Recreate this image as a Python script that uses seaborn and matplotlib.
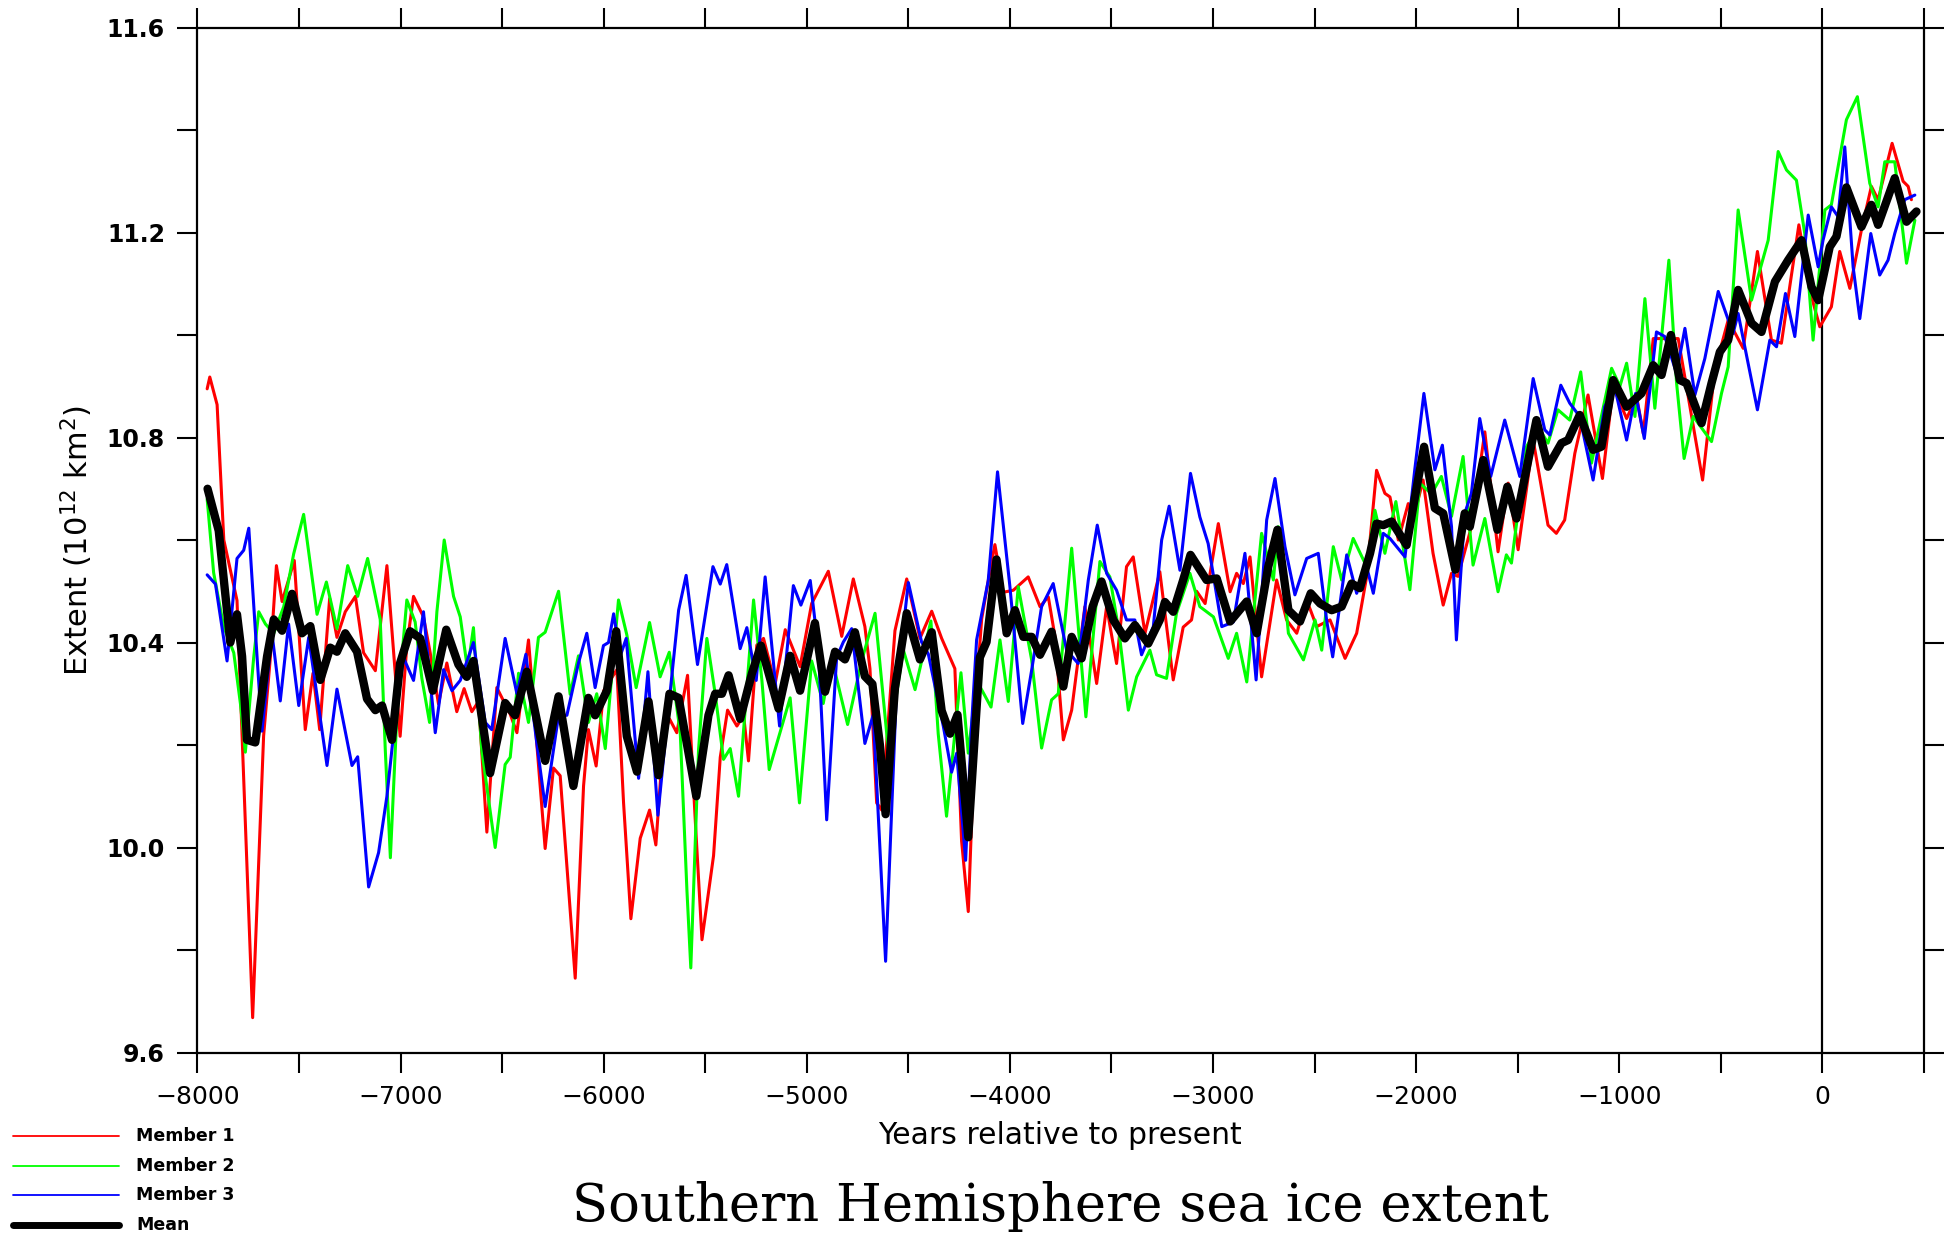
import numpy as np
import pandas as pd
import seaborn as sns
import matplotlib.pyplot as plt
from matplotlib.lines import Line2D
from matplotlib.ticker import MultipleLocator

# Member 1 (red)
m1_years = [-7952, -7939, -7903, -7870, -7805, -7728, -7674, -7641, -7611, -7583, -7523, -7469, -7431, -7398,
            -7349, -7313, -7272, -7222, -7182, -7124, -7067, -7002, -6969, -6936, -6887, -6854, -6813, -6772,
            -6723, -6687, -6649, -6616, -6575, -6526, -6460, -6427, -6370, -6288, -6247, -6214, -6140, -6099,
            -6075, -6037, -6000, -5935, -5902, -5866, -5820, -5774, -5743, -5705, -5676, -5640, -5587, -5549,
            -5516, -5459, -5426, -5390, -5344, -5311, -5287, -5246, -5213, -5156, -5106, -5033, -4976, -4894,
            -4828, -4771, -4714, -4689, -4656, -4631, -4566, -4508, -4443, -4385, -4336, -4271, -4238, -4205,
            -4164, -4139, -4107, -4074, -4033, -3983, -3910, -3852, -3811, -3778, -3737, -3696, -3631, -3573,
            -3524, -3475, -3426, -3393, -3335, -3262, -3196, -3147, -3106, -3081, -3039, -2974, -2916, -2884,
            -2851, -2818, -2761, -2687, -2638, -2588, -2539, -2490, -2424, -2350, -2293, -2244, -2195, -2154,
            -2129, -2088, -2039, -2015, -1966, -1917, -1867, -1826, -1794, -1728, -1662, -1597, -1547, -1498,
            -1424, -1351, -1310, -1269, -1219, -1154, -1083, -1030, -964, -915, -882, -833, -710, -644, -590,
            -530, -464, -390, -320, -251, -202, -161, -116, -54, -13, 44, 85, 135, 192, 241, 274, 343, 397,
            422, 438]
m1_vals = [10.895, 10.918, 10.864, 10.60, 10.482, 9.668, 10.218, 10.37, 10.55, 10.48, 10.56, 10.23, 10.34, 10.23,
           10.486, 10.41, 10.46, 10.49, 10.38, 10.345, 10.55, 10.217, 10.394, 10.49, 10.45, 10.38, 10.28, 10.36,
           10.265, 10.31, 10.265, 10.285, 10.03, 10.312, 10.26, 10.224, 10.405, 9.998, 10.155, 10.14, 9.745, 10.12,
           10.23, 10.159, 10.306, 10.347, 10.087, 9.861, 10.018, 10.073, 10.005, 10.217, 10.251, 10.224, 10.336, 10.053,
           9.82, 9.984, 10.176, 10.268, 10.237, 10.258, 10.169, 10.395, 10.408, 10.319, 10.425, 10.353, 10.476, 10.539,
           10.412, 10.524, 10.431, 10.349, 10.087, 10.073, 10.423, 10.524, 10.408, 10.461, 10.408, 10.349, 10.013, 9.875,
           10.311, 10.446, 10.52, 10.591, 10.498, 10.502, 10.528, 10.47, 10.489, 10.411, 10.21, 10.268, 10.47, 10.32,
           10.47, 10.359, 10.548, 10.567, 10.418, 10.538, 10.327, 10.43, 10.444, 10.50, 10.476, 10.632, 10.499, 10.535,
           10.515, 10.567, 10.333, 10.522, 10.444, 10.418, 10.483, 10.431, 10.444, 10.369, 10.418, 10.528, 10.736, 10.691,
           10.684, 10.6, 10.671, 10.639, 10.717, 10.574, 10.473, 10.535, 10.529, 10.626, 10.811, 10.577, 10.711, 10.581,
           10.795, 10.629, 10.613, 10.639, 10.769, 10.883, 10.72, 10.899, 10.837, 10.88, 10.808, 10.993, 10.993, 10.841, 10.717,
           10.932, 11.029, 10.974, 11.163, 10.99, 10.984, 11.094, 11.215, 11.075, 11.016, 11.055, 11.163, 11.091, 11.205,
           11.29, 11.264, 11.374, 11.3, 11.29, 11.264]

# Member 2 (green)
m2_years = [-7952, -7920, -7870, -7821, -7788, -7764, -7723, -7698, -7665, -7624, -7575, -7526, -7477, -7411,
            -7365, -7313, -7260, -7211, -7162, -7100, -7075, -7050, -7018, -6969, -6928, -6895, -6857, -6821,
            -6785, -6739, -6706, -6670, -6641, -6600, -6534, -6485, -6460, -6419, -6370, -6321, -6288, -6222,
            -6165, -6124, -6075, -6034, -5992, -5927, -5886, -5840, -5774, -5722, -5677, -5623, -5590, -5571,
            -5533, -5492, -5451, -5410, -5377, -5336, -5262, -5221, -5185, -5082, -5036, -4976, -4919, -4878,
            -4799, -4730, -4664, -4599, -4525, -4467, -4389, -4353, -4312, -4241, -4205, -4164, -4093, -4049,
            -4008, -3959, -3893, -3844, -3795, -3762, -3696, -3626, -3557, -3508, -3462, -3417, -3376, -3311,
            -3278, -3229, -3180, -3114, -3065, -2998, -2925, -2884, -2834, -2761, -2703, -2679, -2629, -2555,
            -2498, -2465, -2408, -2367, -2310, -2244, -2203, -2154, -2100, -2031, -1982, -1925, -1876, -1826,
            -1769, -1720, -1662, -1597, -1556, -1531, -1457, -1400, -1351, -1302, -1244, -1190, -1137, -1038,
            -997, -964, -923, -874, -825, -756, -718, -681, -636, -546, -497, -464, -415, -349, -267, -218,
            -177, -128, -87, -46, 12, 44, 118, 172, 233, 274, 307, 356, 414, 455]
m2_vals = [10.68, 10.536, 10.43, 10.38, 10.28, 10.186, 10.37, 10.46, 10.436, 10.418, 10.47, 10.573, 10.65, 10.455,
           10.518, 10.427, 10.55, 10.49, 10.564, 10.445, 10.19, 9.98, 10.258, 10.483, 10.44, 10.33, 10.244, 10.46,
           10.6, 10.49, 10.45, 10.347, 10.429, 10.19, 10.0, 10.162, 10.176, 10.34, 10.244, 10.41, 10.42, 10.5,
           10.299, 10.374, 10.244, 10.30, 10.193, 10.483, 10.415, 10.312, 10.439, 10.333, 10.381, 10.224, 9.916, 9.765,
           10.19, 10.408, 10.30, 10.172, 10.193, 10.1, 10.483, 10.326, 10.152, 10.292, 10.087, 10.364, 10.281, 10.371,
           10.24, 10.364, 10.457, 10.192, 10.386, 10.308, 10.442, 10.222, 10.061, 10.341, 10.184, 10.326, 10.274, 10.405,
           10.285, 10.509, 10.366, 10.194, 10.288, 10.30, 10.584, 10.255, 10.558, 10.528, 10.418, 10.268, 10.333, 10.385,
           10.337, 10.33, 10.457, 10.535, 10.47, 10.45, 10.369, 10.418, 10.323, 10.613, 10.522, 10.626, 10.418, 10.366,
           10.444, 10.385, 10.587, 10.522, 10.603, 10.548, 10.658, 10.574, 10.675, 10.503, 10.711, 10.69, 10.724, 10.646,
           10.763, 10.551, 10.642, 10.499, 10.571, 10.555, 10.782, 10.821, 10.789, 10.854, 10.834, 10.928, 10.75, 10.935,
           10.9, 10.945, 10.841, 11.071, 10.857, 11.146, 10.906, 10.759, 10.841, 10.792, 10.886, 10.938, 11.244, 11.068, 11.185, 11.358,
           11.322, 11.302, 11.198, 10.99, 11.244, 11.254, 11.42, 11.465, 11.296, 11.25, 11.338, 11.338, 11.14, 11.224]

# Member 3 (blue)
m3_years = [-7952, -7911, -7854, -7805, -7772, -7747, -7706, -7682, -7633, -7592, -7551, -7501, -7452, -7362,
            -7313, -7239, -7211, -7157, -7108, -7067, -7018, -6985, -6936, -6887, -6829, -6788, -6747, -6706,
            -6641, -6583, -6551, -6485, -6427, -6383, -6329, -6288, -6222, -6181, -6124, -6083, -6042, -6001,
            -5976, -5951, -5918, -5889, -5828, -5782, -5733, -5681, -5631, -5594, -5538, -5462, -5426, -5394,
            -5328, -5295, -5249, -5205, -5134, -5066, -5029, -4983, -4943, -4902, -4853, -4820, -4779, -4746,
            -4714, -4673, -4612, -4558, -4500, -4435, -4402, -4328, -4287, -4262, -4218, -4189, -4164, -4107,
            -4061, -4000, -3937, -3893, -3844, -3787, -3721, -3664, -3614, -3570, -3524, -3475, -3426, -3385,
            -3352, -3294, -3253, -3216, -3163, -3111, -3065, -3024, -2957, -2900, -2843, -2788, -2736, -2695,
            -2646, -2597, -2539, -2482, -2441, -2411, -2342, -2293, -2244, -2211, -2162, -2129, -2055, -2007,
            -1962, -1908, -1871, -1826, -1802, -1761, -1728, -1687, -1633, -1564, -1490, -1424, -1367, -1342,
            -1288, -1244, -1195, -1129, -1072, -1023, -964, -920, -877, -817, -776, -718, -677, -628, -579,
            -513, -481, -440, -415, -320, -259, -226, -182, -136, -70, -21, 3, 44, 77, 110, 151, 184, 238,
            282, 323, 356, 405, 455]
m3_vals = [10.532, 10.514, 10.364, 10.564, 10.58, 10.623, 10.37, 10.227, 10.418, 10.286, 10.436, 10.277, 10.41, 10.16,
           10.309, 10.16, 10.177, 9.923, 9.99, 10.10, 10.282, 10.37, 10.326, 10.46, 10.224, 10.347, 10.306, 10.326,
           10.4, 10.244, 10.23, 10.408, 10.3, 10.377, 10.203, 10.08, 10.258, 10.258, 10.36, 10.418, 10.312, 10.394,
           10.40, 10.456, 10.374, 10.408, 10.135, 10.343, 10.063, 10.271, 10.463, 10.531, 10.357, 10.548, 10.514, 10.552,
           10.388, 10.429, 10.326, 10.528, 10.237, 10.511, 10.473, 10.521, 10.386, 10.054, 10.371, 10.401, 10.427, 10.311,
           10.203, 10.259, 9.778, 10.311, 10.517, 10.401, 10.378, 10.237, 10.147, 10.184, 9.975, 10.237, 10.405, 10.52,
           10.733, 10.509, 10.242, 10.346, 10.47, 10.515, 10.385, 10.359, 10.522, 10.629, 10.535, 10.502, 10.444, 10.444,
           10.376, 10.431, 10.6, 10.666, 10.541, 10.73, 10.645, 10.593, 10.431, 10.44, 10.574, 10.327, 10.639, 10.72,
           10.587, 10.493, 10.564, 10.574, 10.444, 10.372, 10.571, 10.496, 10.548, 10.496, 10.613, 10.603, 10.567, 10.737,
           10.886, 10.737, 10.785, 10.626, 10.405, 10.652, 10.691, 10.837, 10.724, 10.834, 10.724, 10.915, 10.815, 10.805,
           10.902, 10.867, 10.841, 10.717, 10.86, 10.899, 10.795, 10.886, 10.798, 11.006, 10.997, 10.925, 11.013, 10.883, 10.954,
           11.085, 11.049, 11.003, 11.042, 10.854, 10.99, 10.977, 11.081, 10.997, 11.234, 11.133, 11.185, 11.25, 11.231, 11.367, 11.133, 11.032, 11.198,
           11.117, 11.146, 11.198, 11.264, 11.273]

# Ensemble mean (black)
mean_years = [-7950, -7895, -7838, -7805, -7780, -7756, -7715, -7657, -7624, -7583, -7534, -7485, -7444, -7395,
              -7346, -7313, -7272, -7214, -7165, -7124, -7091, -7042, -7002, -6953, -6903, -6841, -6775, -6715,
              -6674, -6641, -6559, -6485, -6436, -6378, -6288, -6222, -6149, -6075, -6042, -5984, -5938, -5886,
              -5836, -5779, -5730, -5676, -5631, -5544, -5484, -5451, -5418, -5385, -5328, -5270, -5226, -5139,
              -5082, -5033, -4960, -4910, -4861, -4812, -4763, -4714, -4677, -4640, -4612, -4566, -4508, -4443,
              -4385, -4336, -4295, -4258, -4205, -4148, -4115, -4066, -4016, -3975, -3934, -3893, -3852, -3795,
              -3737, -3696, -3647, -3593, -3549, -3491, -3434, -3385, -3319, -3262, -3237, -3196, -3147, -3111,
              -3032, -2982, -2916, -2834, -2785, -2728, -2683, -2629, -2572, -2519, -2473, -2416, -2367, -2318,
              -2277, -2227, -2195, -2162, -2121, -2047, -2006, -1961, -1908, -1867, -1807, -1761, -1736, -1670,
              -1600, -1551, -1506, -1408, -1351, -1285, -1252, -1195, -1129, -1088, -1030, -964, -891, -833,
              -792, -746, -702, -669, -595, -546, -505, -464, -415, -349, -300, -234, -169, -103, -54, -21,
              36, 69, 118, 192, 241, 274, 356, 414, 463]
mean_vals = [10.70, 10.618, 10.40, 10.455, 10.373, 10.21, 10.205, 10.373, 10.445, 10.423, 10.495, 10.418, 10.432, 10.327,
             10.39, 10.382, 10.418, 10.382, 10.29, 10.268, 10.277, 10.21, 10.36, 10.422, 10.408, 10.306, 10.425, 10.357,
             10.333, 10.364, 10.145, 10.282, 10.258, 10.343, 10.169, 10.295, 10.12, 10.292, 10.258, 10.306, 10.422, 10.217,
             10.148, 10.285, 10.141, 10.3, 10.292, 10.1, 10.258, 10.3, 10.30, 10.336, 10.251, 10.34, 10.394, 10.271,
             10.374, 10.306, 10.438, 10.304, 10.382, 10.367, 10.42, 10.334, 10.319, 10.2, 10.065, 10.311, 10.457, 10.367,
             10.42, 10.267, 10.222, 10.259, 10.02, 10.371, 10.401, 10.562, 10.418, 10.463, 10.411, 10.411, 10.376, 10.421,
             10.314, 10.411, 10.369, 10.47, 10.519, 10.444, 10.408, 10.434, 10.398, 10.444, 10.479, 10.46, 10.522, 10.571,
             10.522, 10.525, 10.441, 10.48, 10.418, 10.548, 10.62, 10.463, 10.441, 10.496, 10.476, 10.463, 10.47, 10.515,
             10.506, 10.574, 10.632, 10.629, 10.636, 10.59, 10.684, 10.782, 10.662, 10.652, 10.542, 10.652, 10.626, 10.756,
             10.62, 10.704, 10.642, 10.834, 10.743, 10.789, 10.795, 10.844, 10.776, 10.782, 10.912, 10.86, 10.886, 10.941,
             10.922, 11.0, 10.912, 10.906, 10.828, 10.906, 10.967, 10.99, 11.088, 11.023, 11.006, 11.104, 11.146, 11.185, 11.094, 11.068,
             11.172, 11.192, 11.288, 11.211, 11.254, 11.215, 11.306, 11.221, 11.241]

series = [
    ("Member 1", m1_years, m1_vals, "#ff0000", 2.2),
    ("Member 2", m2_years, m2_vals, "#00ff00", 2.2),
    ("Member 3", m3_years, m3_vals, "#0000ff", 2.2),
    ("Mean", mean_years, mean_vals, "black", 6.0),
]

sns.set_style("ticks")
plt.rcParams['font.family'] = ['DejaVu Sans']
plt.rcParams['text.color'] = 'black'
plt.rcParams['xtick.color'] = 'black'
plt.rcParams['ytick.color'] = 'black'
plt.rcParams['axes.labelcolor'] = 'black'

W, H = 1959, 1235
fig = plt.figure(figsize=(W / 100, H / 100), dpi=100)
ax = fig.add_axes([197.4 / W, 1 - 1052.5 / H, 1726.6 / W, 1025 / H])

for name, yrs, vals, col, lw in series:
    df = pd.DataFrame({"year": yrs, "extent": vals})
    sns.lineplot(data=df, x="year", y="extent", color=col, lw=lw, ax=ax,
                 estimator=None, sort=False, solid_joinstyle="round", solid_capstyle="round")

ax.axvline(0, color="black", lw=1.6, zorder=1)

ax.set_xlim(-8000, 500)
ax.set_ylim(9.6, 11.6)
ax.set_xlabel("")
ax.set_ylabel("")

ax.set_xticks(np.arange(-8000, 1, 1000))
ax.set_xticklabels([f"\u2212{abs(v)}" if v < 0 else str(v) for v in range(-8000, 1, 1000)])
ax.xaxis.set_minor_locator(MultipleLocator(500))
ax.set_yticks([9.6, 10.0, 10.4, 10.8, 11.2, 11.6])
ax.set_yticklabels(["9.6", "10.0", "10.4", "10.8", "11.2", "11.6"])
ax.yaxis.set_minor_locator(MultipleLocator(0.2))

ax.tick_params(which="both", direction="out", length=14.4, width=1.5, color="black",
               top=True, right=True)
ax.tick_params(axis="x", which="major", labelsize=18, pad=9)
ax.tick_params(axis="y", which="major", labelsize=17, pad=9)
for lab in ax.get_yticklabels():
    lab.set_fontweight("bold")
for s in ax.spines.values():
    s.set_visible(True)
    s.set_linewidth(1.6)
    s.set_color("black")

fig.text(77 / W, 1 - 540 / H, "Extent (10$^{12}$ km$^2$)", rotation=90,
         ha="center", va="center", fontsize=22)
fig.text(1060 / W, 1 - 1144 / H, "Years relative to present", ha="center",
         va="baseline", fontsize=21.5)
fig.text(1060 / W, 1 - 1221 / H, "Southern Hemisphere sea ice extent", ha="center",
         va="baseline", fontsize=38, family="DejaVu Serif")

# legend in the lower-left corner
rows = [1136, 1166, 1195, 1225]
for (name, _, _, col, lw), ry in zip(series, rows):
    fig.add_artist(Line2D([13 / W, 119 / W], [1 - ry / H, 1 - ry / H], color=col,
                          lw=1.3 if lw < 3 else 5, transform=fig.transFigure))
    fig.text(136 / W, 1 - ry / H, name, ha="left", va="center", fontsize=12.5, fontweight="bold")

fig.savefig("out.png", dpi=100)
